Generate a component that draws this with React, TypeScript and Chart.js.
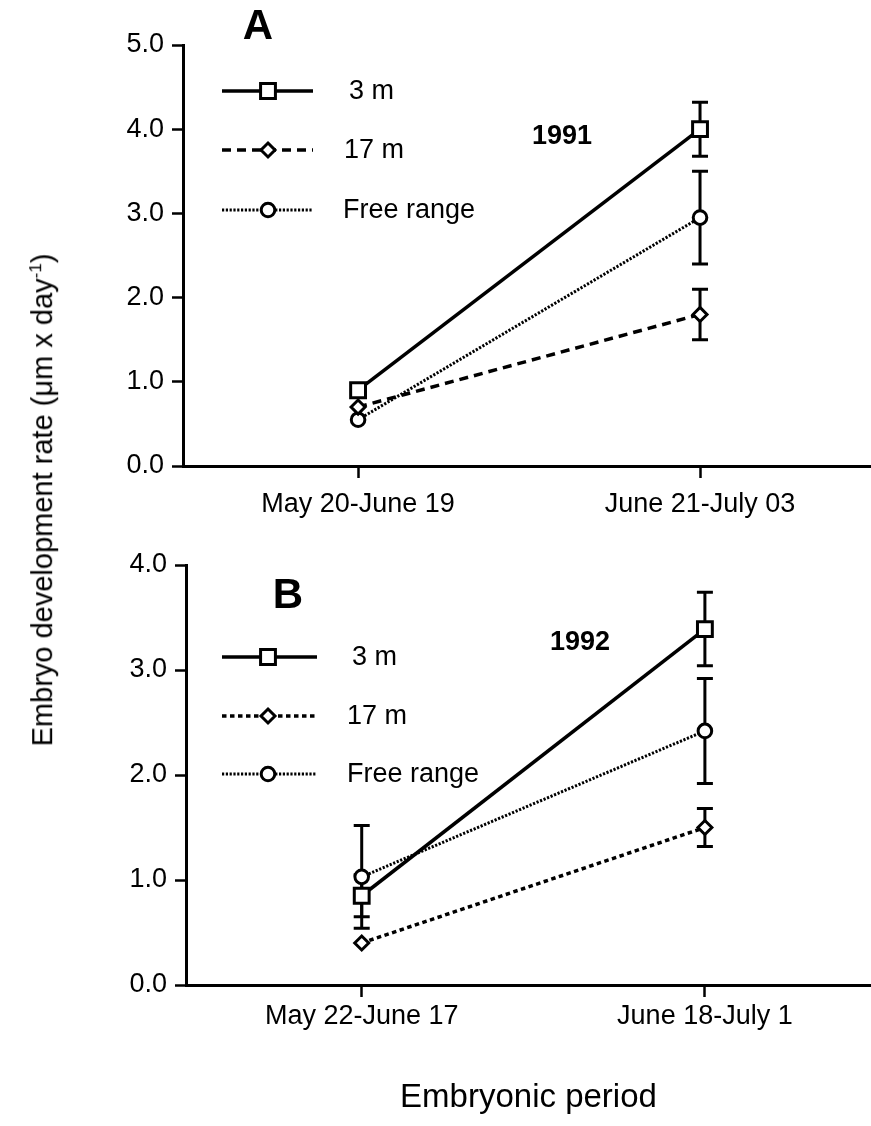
import React, { useEffect, useRef } from "react";
import { Chart, registerables } from "chart.js";
Chart.register(...registerables);

// ---------- data ----------
const seriesLabels = ["3 m", "17 m", "Free range"];
const periodsA = ["May 20-June 19", "June 21-July 03"];
const periodsB = ["May 22-June 17", "June 18-July 1"];

const m3A = [0.9, 4.0];
const m17A = [0.7, 1.8];
const freeA = [0.55, 2.95];
const m3ErrA = [0, 0.32];
const m17ErrA = [0, 0.3];
const freeErrA = [0, 0.55];

const m3B = [0.85, 3.39];
const m17B = [0.4, 1.5];
const freeB = [1.03, 2.42];
const m3ErrB = [0.2, 0.35];
const m17ErrB = [0, 0.18];
const freeErrB = [0.49, 0.5];

const yTicksA = [0, 1, 2, 3, 4, 5];
const yTicksB = [0, 1, 2, 3, 4];
const xTitle = "Embryonic period";

// ---------- styles ----------
const FONT = "'Liberation Sans', Arial, Helvetica, sans-serif";
const BLACK = "#000";

const pointStyles = ["rect", "rectRot", "circle"];
const pointRadii = [10.5, 7, 6.8];
const lineWidths = [3.5, 3.5, 3];

const panels = [
  {
    periods: periodsA,
    series: [m3A, m17A, freeA],
    errors: [m3ErrA, m17ErrA, freeErrA],
    yMax: 5,
    yTicks: yTicksA,
    letter: "A",
    year: "1991",
    canvasTop: 0,
    canvasH: 540,
    areaTop: 45,
    areaBottom: 466,
    areaLeft: 183,
    xMin: -0.512,
    xMax: 1.5,
    xPad: 10,
    dashes: [[], [9, 6], [2.2, 1.6]],
    legendRows: [91, 150, 210],
    legendLine: [222, 313],
    markerX: 268,
    textX: [349, 344, 343],
    letterPos: [258, 27],
    yearPos: [562, 137],
    showTitle: false,
  },
  {
    periods: periodsB,
    series: [m3B, m17B, freeB],
    errors: [m3ErrB, m17ErrB, freeErrB],
    yMax: 4,
    yTicks: yTicksB,
    letter: "B",
    year: "1992",
    canvasTop: 540,
    canvasH: 586,
    areaTop: 25,
    areaBottom: 445,
    areaLeft: 186,
    xMin: -0.512,
    xMax: 1.484,
    xPad: 3,
    dashes: [[], [4.5, 3.5], [2.2, 1.6]],
    legendRows: [117, 176, 234],
    legendLine: [222, 317],
    markerX: 268,
    textX: [352, 347, 347],
    letterPos: [288, 56],
    yearPos: [580, 103],
    showTitle: true,
  },
];

function drawMarker(ctx: CanvasRenderingContext2D, style: string, x: number, y: number, r: number) {
  ctx.beginPath();
  if (style === "rect") {
    const s = r * Math.SQRT1_2;
    ctx.rect(x - s, y - s, 2 * s, 2 * s);
  } else if (style === "rectRot") {
    ctx.moveTo(x, y - r);
    ctx.lineTo(x + r, y);
    ctx.lineTo(x, y + r);
    ctx.lineTo(x - r, y);
    ctx.closePath();
  } else {
    ctx.arc(x, y, r, 0, Math.PI * 2);
  }
  ctx.fillStyle = "#fff";
  ctx.fill();
  ctx.setLineDash([]);
  ctx.lineWidth = 3;
  ctx.strokeStyle = BLACK;
  ctx.stroke();
}

function PanelChart({ p }: { p: any }) {
  const ref = useRef<HTMLCanvasElement | null>(null);
  useEffect(() => {
    if (!ref.current) return;
    const datasets = p.series.map((vals: number[], si: number) => ({
      label: seriesLabels[si],
      data: vals.map((v, i) => ({ x: i, y: v })),
      borderColor: BLACK,
      backgroundColor: "#fff",
      borderWidth: lineWidths[si],
      borderDash: p.dashes[si],
      pointStyle: pointStyles[si],
      pointRadius: pointRadii[si],
      pointBorderWidth: 3,
      pointBorderColor: BLACK,
      pointBackgroundColor: "#fff",
      tension: 0,
      fill: false,
      clip: false,
    }));

    const decor = {
      id: "decor",
      beforeDatasetsDraw(chart: any) {
        const ctx = chart.ctx as CanvasRenderingContext2D;
        const xs = chart.scales.x;
        const ys = chart.scales.y;
        ctx.save();
        ctx.strokeStyle = BLACK;
        ctx.lineWidth = 3;
        ctx.setLineDash([]);
        p.series.forEach((vals: number[], si: number) => {
          vals.forEach((v, i) => {
            const e = p.errors[si][i];
            if (!e) return;
            const x = xs.getPixelForValue(i);
            const y1 = ys.getPixelForValue(v - e);
            const y2 = ys.getPixelForValue(v + e);
            ctx.beginPath();
            ctx.moveTo(x, y1);
            ctx.lineTo(x, y2);
            ctx.moveTo(x - 8, y1);
            ctx.lineTo(x + 8, y1);
            ctx.moveTo(x - 8, y2);
            ctx.lineTo(x + 8, y2);
            ctx.stroke();
          });
        });
        ctx.restore();
      },
      afterDraw(chart: any) {
        const ctx = chart.ctx as CanvasRenderingContext2D;
        ctx.save();
        ctx.fillStyle = BLACK;
        ctx.textAlign = "center";
        ctx.textBaseline = "middle";
        ctx.font = `bold 42px ${FONT}`;
        ctx.fillText(p.letter, p.letterPos[0], p.letterPos[1]);
        ctx.font = `bold 27px ${FONT}`;
        ctx.fillText(p.year, p.yearPos[0], p.yearPos[1]);
        seriesLabels.forEach((lab, si) => {
          const y = p.legendRows[si];
          ctx.beginPath();
          ctx.setLineDash(p.dashes[si]);
          ctx.lineWidth = lineWidths[si];
          ctx.strokeStyle = BLACK;
          ctx.moveTo(p.legendLine[0], y);
          ctx.lineTo(p.legendLine[1], y);
          ctx.stroke();
          drawMarker(ctx, pointStyles[si], p.markerX, y, pointRadii[si]);
          ctx.fillStyle = BLACK;
          ctx.textAlign = "left";
          ctx.textBaseline = "middle";
          ctx.font = `27px ${FONT}`;
          ctx.fillText(lab, p.textX[si], y + 1);
        });
        ctx.restore();
      },
    };

    const chart = new Chart(ref.current, {
      type: "line",
      data: { datasets },
      plugins: [decor],
      options: {
        animation: false,
        responsive: false,
        devicePixelRatio: 1,
        layout: { autoPadding: false, padding: { top: p.areaTop, left: 0, right: 0, bottom: 0 } },
        plugins: { legend: { display: false }, tooltip: { enabled: false }, title: { display: false } },
        scales: {
          x: {
            type: "linear",
            min: p.xMin,
            max: p.xMax,
            afterBuildTicks: (s: any) => {
              s.ticks = p.periods.map((_: string, i: number) => ({ value: i }));
            },
            afterFit: (s: any) => {
              s.height = p.canvasH - p.areaBottom;
              s.paddingLeft = 0;
              s.paddingRight = 0;
            },
            ticks: {
              callback: (v: any) => p.periods[v] ?? "",
              color: BLACK,
              font: { family: FONT, size: 27 },
              padding: p.xPad,
              maxRotation: 0,
              autoSkip: false,
            },
            grid: {
              drawOnChartArea: false,
              drawTicks: true,
              tickLength: 12,
              tickWidth: 2.5,
              tickColor: BLACK,
              color: BLACK,
            },
            border: { display: true, color: BLACK, width: 3 },
            title: {
              display: p.showTitle,
              text: xTitle,
              color: BLACK,
              font: { family: FONT, size: 33 },
              padding: { top: 0, bottom: 8 },
            },
          },
          y: {
            type: "linear",
            min: 0,
            max: p.yMax,
            afterBuildTicks: (s: any) => {
              s.ticks = p.yTicks.map((v: number) => ({ value: v }));
            },
            afterFit: (s: any) => {
              s.width = p.areaLeft;
              s.paddingTop = 0;
              s.paddingBottom = 0;
            },
            ticks: {
              callback: (v: any) => Number(v).toFixed(1),
              color: BLACK,
              font: { family: FONT, size: 27 },
              padding: 8,
            },
            grid: {
              drawOnChartArea: false,
              drawTicks: true,
              tickLength: 11,
              tickWidth: 2.5,
              tickColor: BLACK,
              color: BLACK,
            },
            border: { display: true, color: BLACK, width: 3 },
          },
        },
      } as any,
    });
    return () => chart.destroy();
  }, [p]);
  return (
    <canvas
      ref={ref}
      width={871}
      height={p.canvasH}
      style={{ position: "absolute", left: 0, top: p.canvasTop, width: 871, height: p.canvasH }}
    />
  );
}

export default function App() {
  return (
    <div style={{ position: "absolute", left: 0, top: 0, width: 871, height: 1126, background: "#fff", overflow: "hidden" }}>
      {panels.map((p, i) => (
        <PanelChart key={i} p={p} />
      ))}
      <div
        style={{
          position: "absolute",
          left: 42,
          top: 500,
          transform: "translate(-50%, -50%) rotate(-90deg)",
          whiteSpace: "nowrap",
          fontFamily: FONT,
          fontSize: 29,
          color: BLACK,
          lineHeight: 1,
        }}
      >
        Embryo development rate (μm x day<sup style={{ fontSize: 17 }}>-1</sup>)
      </div>
    </div>
  );
}
